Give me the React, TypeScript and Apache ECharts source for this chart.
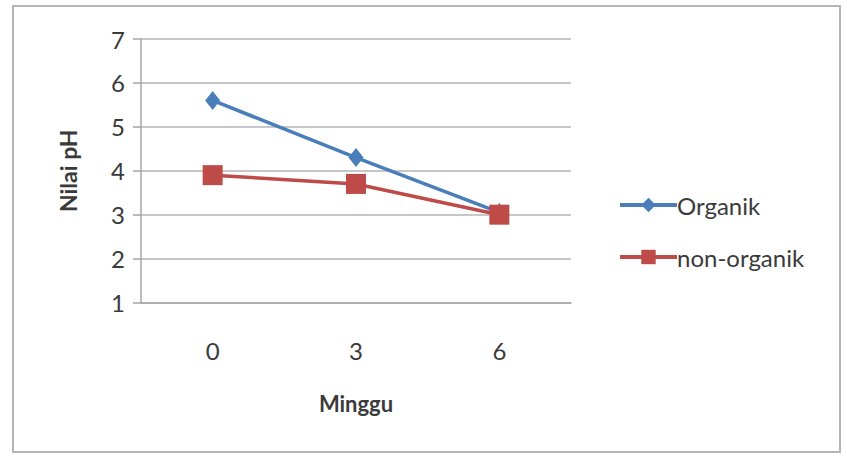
import React, { useEffect, useRef } from "react";
import * as echarts from "echarts";

const weeks = ["0", "3", "6"];
const organik = [5.6, 4.3, 3.05];
const nonOrganik = [3.9, 3.7, 3.0];
const seriesNames = ["Organik", "non-organik"];

export default function App() {
  const ref = useRef<HTMLDivElement>(null);
  useEffect(() => {
    if (!ref.current) return;
    const chart = echarts.init(ref.current, null, { renderer: "svg" });
    const font = "Lato, 'Open Sans', sans-serif";
    chart.setOption({
      animation: false,
      backgroundColor: "#ffffff",
      textStyle: { fontFamily: font },
      graphic: [
        {
          type: "rect",
          shape: { x: 13, y: 6, width: 827, height: 446 },
          style: { fill: "none", stroke: "#b4b4b4", lineWidth: 2 },
          silent: true,
        },
      ],
      grid: { left: 141, right: 276, top: 39, bottom: 153.5, containLabel: false },
      legend: {
        orient: "vertical",
        left: 613,
        top: 188,
        itemWidth: 57,
        itemHeight: 18,
        itemGap: 28,
        lineStyle: { width: 4 },
        textStyle: { fontSize: 24, color: "#3a3a3a", fontFamily: font, padding: [0, 0, 0, -5] },
        data: seriesNames,
      },
      xAxis: {
        type: "category",
        data: weeks,
        boundaryGap: true,
        name: "Minggu",
        nameLocation: "middle",
        nameGap: 90,
        nameTextStyle: { fontSize: 22, fontWeight: "bold", color: "#3a3a3a", fontFamily: font },
        axisLine: { lineStyle: { color: "#a6a6a6", width: 1.5 } },
        axisTick: { show: false },
        axisLabel: { fontSize: 24, color: "#3a3a3a", margin: 36, fontFamily: font },
      },
      yAxis: {
        type: "value",
        min: 1,
        max: 7,
        interval: 1,
        name: "Nilai pH",
        nameLocation: "middle",
        nameGap: 62,
        nameTextStyle: { fontSize: 23, fontWeight: "bold", color: "#3a3a3a", fontFamily: font },
        axisLine: { show: true, lineStyle: { color: "#a6a6a6", width: 1.5 } },
        axisTick: { show: true, length: 8, lineStyle: { color: "#a6a6a6", width: 1.5 } },
        axisLabel: { fontSize: 24, color: "#3a3a3a", margin: 16, fontFamily: font },
        splitLine: { lineStyle: { color: "#b4b4b4", width: 1.5 } },
      },
      series: [
        {
          name: seriesNames[0],
          type: "line",
          data: organik,
          symbol: "diamond",
          symbolSize: [15, 19],
          lineStyle: { color: "#4a7ebb", width: 3.5 },
          itemStyle: { color: "#4a7ebb" },
          z: 2,
        },
        {
          name: seriesNames[1],
          type: "line",
          data: nonOrganik,
          symbol: "rect",
          symbolSize: 20,
          lineStyle: { color: "#be4b48", width: 3.5 },
          itemStyle: { color: "#be4b48" },
          z: 3,
        },
      ],
    });
    return () => chart.dispose();
  }, []);
  return (
    <div
      ref={ref}
      style={{ position: "fixed", left: 0, top: 0, width: 847, height: 456 }}
    />
  );
}
